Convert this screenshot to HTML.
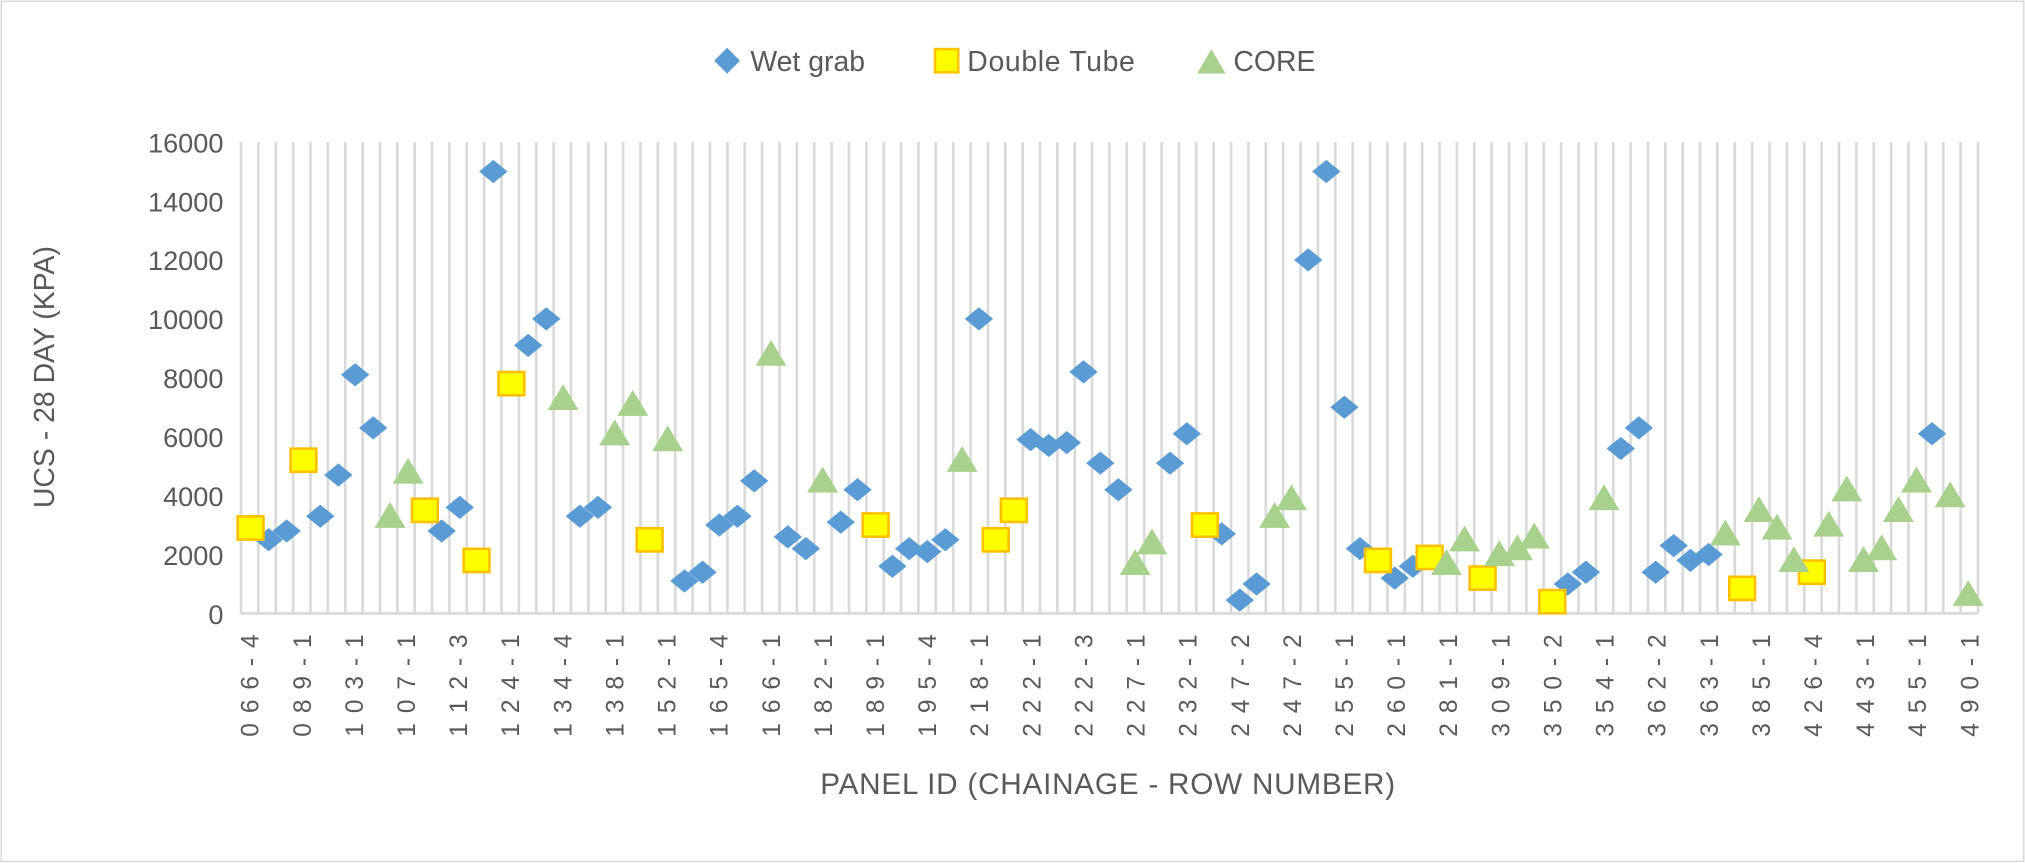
<!DOCTYPE html>
<html><head><meta charset="utf-8"><style>
html,body{margin:0;padding:0;background:#fff}
svg{display:block}
text{font-family:"Liberation Sans",sans-serif;fill:#595959}
</style></head><body>
<svg width="2025" height="863" viewBox="0 0 1568 668.24" preserveAspectRatio="none" xmlns="http://www.w3.org/2000/svg">
<rect x="1" y="1" width="1566" height="666" fill="#fff" stroke="#D9D9D9" stroke-width="1.2"/>
<g id="grid" stroke="#D9D9D9" stroke-width="2"></g>
<line x1="186.6" y1="475" x2="1531.6" y2="475" stroke="#D9D9D9" stroke-width="2"/>
<g id="yt" font-size="21" text-anchor="end"></g>
<g id="xt" font-size="19"></g>
<g id="pts"></g>
<text x="36" y="292" font-size="22" text-anchor="middle" transform="rotate(-90 36 292)" dominant-baseline="middle">UCS - 28 DAY  (KPA)</text>
<text x="858" y="615" font-size="23" text-anchor="middle" letter-spacing="0.6">PANEL ID (CHAINAGE - ROW NUMBER)</text>
<g font-size="22">
<path d="M563 37 L573 47 L563 57 L553 47Z" fill="#5B9BD5"/>
<text x="581" y="55">Wet grab</text>
<rect x="724" y="38" width="18" height="18" fill="#FFFF00" stroke="#FFC000" stroke-width="2"/>
<text x="749" y="55" letter-spacing="0.5">Double Tube</text>
<path d="M927 57 L949 57 L938 38Z" fill="#A9D18E"/>
<text x="955" y="55">CORE</text>
</g>
</svg>
<script>
const NS="http://www.w3.org/2000/svg";
function el(t,a,p,txt){const e=document.createElementNS(NS,t);for(const k in a)e.setAttribute(k,a[k]);if(txt)e.textContent=txt;document.getElementById(p).appendChild(e);return e;}
const L=186.6,W=13.45;
for(let i=0;i<=100;i++){const x=L+i*W;el('line',{x1:x,y1:110,x2:x,y2:475},'grid');}
const Y=v=>475-v*365/16000;
for(let v=0;v<=16000;v+=2000)el('text',{x:173,y:Y(v)+8},'yt',String(v));
const labs=["066-4","089-1","103-1","107-1","112-3","124-1","134-4","138-1","152-1","165-4","166-1","182-1","189-1","195-4","218-1","222-1","222-3","227-1","232-1","247-2","247-2","255-1","260-1","281-1","309-1","350-2","354-1","362-2","363-1","385-1","426-4","443-1","455-1","490-1"];
labs.forEach((s,k)=>{const x=L+(k*3+0.5)*W+7,y=490;el('text',{x:x,y:y,'text-anchor':'end','letter-spacing':'1.2',transform:`rotate(-90 ${x} ${y})`},'xt',s.split('').join(' '));});
const wet=[[208,2500],[222,2800],[248,3300],[262,4700],[275,8100],[289,6300],[342,2800],[356,3600],[382,15000],[409,9100],[423,10000],[449,3300],[463,3600],[530,1100],[544,1400],[557,3000],[571,3300],[584,4500],[610,2600],[624,2200],[651,3100],[664,4200],[691,1600],[704,2200],[718,2100],[732,2500],[758,10000],[798,5900],[812,5700],[826,5800],[839,8200],[852,5100],[866,4200],[906,5100],[919,6100],[946,2700],[960,450],[973,1000],[1013,12000],[1027,15000],[1041,7000],[1053,2200],[1080,1200],[1094,1600],[1214,1000],[1228,1400],[1255,5600],[1269,6300],[1282,1400],[1296,2300],[1309,1800],[1323,2000],[1496,6100]];
const dt=[[194,2900],[235,5200],[329,3500],[369,1800],[396,7800],[503,2500],[678,3000],[771,2500],[785,3500],[933,3000],[1067,1800],[1107,1900],[1148,1200],[1202,400],[1349,850],[1403,1400]];
const core=[[302,3300],[316,4800],[436,7300],[476,6100],[490,7100],[517,5900],[597,8800],[637,4500],[745,5200],[879,1700],[892,2400],[987,3300],[1000,3900],[1120,1700],[1134,2500],[1161,2000],[1175,2200],[1188,2600],[1242,3900],[1336,2700],[1362,3500],[1376,2900],[1389,1800],[1416,3000],[1430,4200],[1443,1800],[1457,2200],[1470,3500],[1484,4500],[1510,4000],[1524,650]];
wet.forEach(([x,v])=>{const y=Y(v);el('path',{d:`M${x} ${y-9} L${x+11} ${y} L${x} ${y+9} L${x-11} ${y}Z`,fill:'#5B9BD5'},'pts');});
dt.forEach(([x,v])=>{const y=Y(v);el('rect',{x:x-10,y:y-9,width:20,height:18,fill:'#FFFF00',stroke:'#FFC000','stroke-width':2},'pts');});
core.forEach(([x,v])=>{const y=Y(v);el('path',{d:`M${x-12} ${y+9} L${x+12} ${y+9} L${x} ${y-11}Z`,fill:'#A9D18E'},'pts');});
</script>
</body></html>
